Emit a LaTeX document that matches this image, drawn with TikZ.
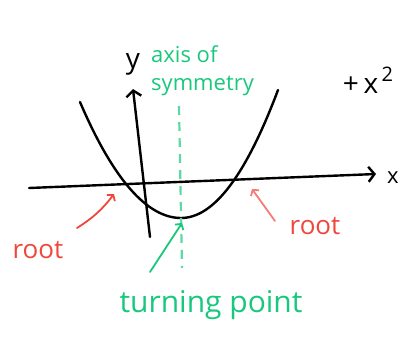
\documentclass[tikz,border=0pt]{standalone}
\usepackage{fontspec}
\setmainfont{Open Sans}
\usetikzlibrary{arrows.meta, positioning}
\definecolor{markergreen}{RGB}{25, 200, 125}
\definecolor{markerred}{RGB}{240, 70, 60}
\definecolor{markerpink}{RGB}{245, 125, 120}

\begin{document}
\begin{tikzpicture}[x=1pt, y=-1pt,
		axis/.style={line width=2.4pt, line cap=round, -{Straight Barb[length=6pt, width=15pt, line width=2.4pt]}},
		curve/.style={line width=2.4pt, line cap=round},
		symaxis/.style={line width=2.2pt, markergreen!70, dash pattern=on 9pt off 7pt},
		pointer/.style={line width=1.8pt, line cap=round, -{Straight Barb[length=4pt, width=10pt, line width=1.8pt]}},
		hand/.style={inner sep=0pt, font=\fontsize{26}{28}\selectfont},
		lbl/.style={inner sep=0pt, font=\fontsize{22}{28}\selectfont}
	]
	\useasboundingbox (0,0) rectangle (414,348);
	
	% Axes
	\coordinate (xstart) at (29,188);
	\coordinate (xend) at (376,174);
	\coordinate (ystart) at (150,237);
	\coordinate (yend) at (133,89);
	\draw[axis] (xstart) -- (xend);
	\draw[axis] (ystart) -- (yend);
	\node[lbl] (xlab) at (393,178) {x};
	\node[lbl, font=\fontsize{28}{28}\selectfont] (ylab) at (133,64) {y};
	
	% Parabola
	\coordinate (pleft) at (80,102);
	\coordinate (vertex) at (181,218);
	\coordinate (pright) at (278,90);
	\draw[curve] (pleft) .. controls (113,179) and (147,218) .. (vertex)
		.. controls (214,218) and (246,175) .. (pright);
	
	% Axis of symmetry
	\coordinate (symtop) at (179,106);
	\coordinate (symbot) at (182,268);
	\draw[symaxis] (symtop) -- (symbot);
	\node[lbl, text=markergreen, anchor=west, align=left] (symlab) at (151,71) {axis of\\symmetry};
	
	% Equation
	\node[hand, font=\fontsize{28}{28}\selectfont] (eqn) at (368,80) {+\,x\raisebox{12pt}{\fontsize{20}{20}\selectfont\,2}};
	
	% Roots
	\coordinate (rootL) at (114,194);
	\coordinate (rootR) at (252,189);
	\node[hand, text=markerred] (rootLlab) at (38,250) {root};
	\node[hand, text=markerred] (rootRlab) at (315,226) {root};
	\draw[pointer, markerred] (77,228) to[bend right=10] (rootL);
	\draw[pointer, markerpink] (275,221) -- (rootR);
	
	% Turning point
	\coordinate (tptail) at (150,272);
	\coordinate (tptip) at (182,223);
	\draw[pointer, markergreen] (tptail) -- (tptip);
	\node[hand, text=markergreen, font=\fontsize{30}{32}\selectfont] (tplab) at (211,305) {turning point};
\end{tikzpicture}
\end{document}
